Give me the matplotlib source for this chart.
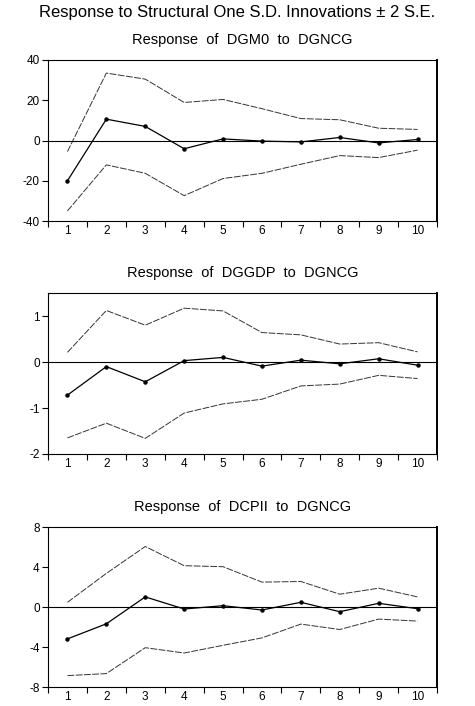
import matplotlib
matplotlib.use("Agg")
import matplotlib.pyplot as plt

plt.rcParams["font.family"] = ["Liberation Sans", "DejaVu Sans"]

periods = [1, 2, 3, 4, 5, 6, 7, 8, 9, 10]

# Response of DGM0 to DGNCG
dgm0_resp = [-20.0, 10.6, 7.0, -4.1, 0.8, -0.3, -0.7, 1.5, -1.2, 0.5]
dgm0_upper = [-5.5, 33.5, 30.5, 18.9, 20.4, 15.8, 10.9, 10.3, 6.1, 5.5]
dgm0_lower = [-35.0, -12.1, -16.3, -27.4, -18.9, -16.3, -11.8, -7.5, -8.5, -4.8]

# Response of DGGDP to DGNCG
dggdp_resp = [-0.72, -0.10, -0.43, 0.03, 0.10, -0.09, 0.04, -0.04, 0.07, -0.07]
dggdp_upper = [0.21, 1.12, 0.80, 1.17, 1.11, 0.64, 0.59, 0.39, 0.42, 0.22]
dggdp_lower = [-1.65, -1.33, -1.66, -1.11, -0.91, -0.81, -0.52, -0.48, -0.29, -0.36]

# Response of DCPII to DGNCG
dcpii_resp = [-3.19, -1.68, 1.01, -0.20, 0.13, -0.30, 0.47, -0.47, 0.37, -0.17]
dcpii_upper = [0.47, 3.36, 6.05, 4.13, 4.03, 2.49, 2.55, 1.28, 1.88, 1.01]
dcpii_lower = [-6.86, -6.66, -4.07, -4.60, -3.83, -3.09, -1.71, -2.25, -1.21, -1.41]

panels = [
    ("Response  of  DGM0  to  DGNCG", dgm0_resp, dgm0_upper, dgm0_lower,
     (-40, 40), [-40, -20, 0, 20, 40]),
    ("Response  of  DGGDP  to  DGNCG", dggdp_resp, dggdp_upper, dggdp_lower,
     (-2, 1.5), [-2, -1, 0, 1]),
    ("Response  of  DCPII  to  DGNCG", dcpii_resp, dcpii_upper, dcpii_lower,
     (-8, 8), [-8, -4, 0, 4, 8]),
]

W, H = 475, 706
fig = plt.figure(figsize=(W / 100, H / 100), dpi=100)

# axes boxes in pixels: (top, bottom)
boxes = [(60, 221), (293, 454), (527, 687)]
left_px, right_px = 48, 437

fig.text(0.5, 1 - 12 / H, "Response to Structural One S.D. Innovations \u00b1 2 S.E.",
         ha="center", va="center", fontsize=12)

for (title, resp, up, lo, ylim, yticks), (top, bot) in zip(panels, boxes):
    ax = fig.add_axes([left_px / W, 1 - bot / H, (right_px - left_px) / W, (bot - top) / H])
    ax.plot(periods, up, color="#333333", lw=0.7, ls=(0, (7, 1.5)))
    ax.plot(periods, lo, color="#333333", lw=0.7, ls=(0, (7, 1.5)))
    ax.plot(periods, resp, color="black", lw=0.9, marker="o", ms=2.2)
    ax.axhline(0, color="black", lw=0.8)
    ax.set_xlim(0.5, 10.5)
    ax.set_ylim(*ylim)
    ax.set_yticks(yticks)
    ax.set_yticklabels([str(t) for t in yticks])
    ax.set_xticks([p - 0.5 for p in periods] + [10.5])
    ax.set_xticklabels([])
    ax.set_xticks(periods, minor=True)
    ax.set_xticklabels([str(p) for p in periods], minor=True)
    ax.tick_params(axis="x", which="minor", length=0, labelsize=8.5, pad=3)
    ax.tick_params(axis="x", which="major", length=4, width=0.8, direction="out")
    ax.tick_params(axis="y", length=4, width=0.8, direction="out", labelsize=8.5, pad=2)
    for s in ["left", "top", "bottom"]:
        ax.spines[s].set_linewidth(0.8)
    ax.spines["right"].set_linewidth(1.4)
    fig.text(0.5 * (left_px + right_px) / W, 1 - (top - 20) / H, title,
             ha="center", va="center", fontsize=10.5)

fig.savefig("out.png", dpi=100)
